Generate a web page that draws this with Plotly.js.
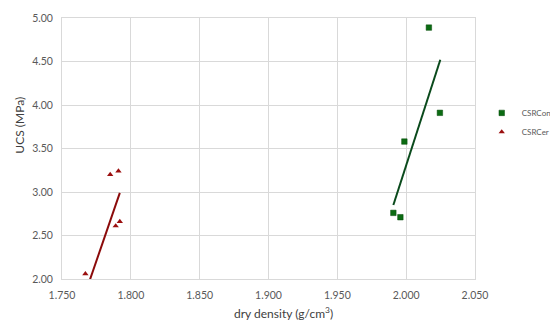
<!DOCTYPE html>
<html>
<head>
<meta charset="utf-8">
<script src="https://cdn.plot.ly/plotly-3.0.1.min.js"></script>
<style>
  html, body { margin: 0; padding: 0; background: #fff; }
  #chart { width: 550px; height: 328px; }
</style>
</head>
<body>
<div id="chart"></div>
<script>
// values
const conDensity = [2.0165, 2.0245, 1.9987, 1.9907, 1.9958];
const conUcs = [4.89, 3.91, 3.58, 2.76, 2.71];
const cerDensity = [1.767, 1.785, 1.791, 1.789, 1.792];
const cerUcs = [2.06, 3.20, 3.24, 2.61, 2.66];

// trend line ends (as drawn)
const conTrendX = [1.9907, 2.0248];
const conTrendY = [2.85, 4.52];
const cerTrendX = [1.767, 1.792];
const cerTrendY = [1.84, 2.99];

const xTicks = [1.75, 1.8, 1.85, 1.9, 1.95, 2.0, 2.05];
const xTickText = ['1.750', '1.800', '1.850', '1.900', '1.950', '2.000', '2.050'];
const yTicks = [2, 2.5, 3, 3.5, 4, 4.5, 5];
const yTickText = ['2.00', '2.50', '3.00', '3.50', '4.00', '4.50', '5.00'];

const green = '#0b6b12';
const red = '#9b0f0f';
const fontFam = 'Lato, "Open Sans", sans-serif';

const traces = [
  {
    x: conDensity, y: conUcs, type: 'scatter', mode: 'markers', name: 'CSRCon',
    marker: { symbol: 'square', size: 5.5, color: green, line: { width: 0.5, color: '#064a0a' } }
  },
  {
    x: cerDensity, y: cerUcs, type: 'scatter', mode: 'markers', name: 'CSRCer',
    marker: { symbol: 'triangle-up', size: 5.5, color: red }
  },
  {
    x: conTrendX, y: conTrendY, type: 'scatter', mode: 'lines', showlegend: false,
    line: { color: '#0a4a1c', width: 2 }
  },
  {
    x: cerTrendX, y: cerTrendY, type: 'scatter', mode: 'lines', showlegend: false,
    line: { color: '#8b0a0a', width: 2 }
  }
];

const axisCommon = {
  showgrid: true, gridcolor: '#d9d9d9', gridwidth: 1,
  showline: true, mirror: true, linecolor: '#d9d9d9', linewidth: 1,
  zeroline: false, ticks: '', tickmode: 'array',
  tickfont: { family: fontFam, size: 10.5, color: '#595959' }
};

const layout = {
  width: 550, height: 328,
  margin: { l: 61.5, r: 74.7, t: 18, b: 49, autoexpand: false },
  paper_bgcolor: '#fff', plot_bgcolor: '#fff',
  font: { family: fontFam, color: '#595959' },
  xaxis: Object.assign({}, axisCommon, {
    range: [1.75, 2.05], tickvals: xTicks, ticktext: xTickText, ticklabelstandoff: 6
  }),
  yaxis: Object.assign({}, axisCommon, {
    range: [2, 5], tickvals: yTicks, ticktext: yTickText, ticklabelstandoff: 6
  }),
  showlegend: true,
  legend: {
    x: 1.0163, xanchor: 'left', y: 0.6, yanchor: 'middle',
    font: { family: fontFam, size: 8, color: '#595959' },
    bgcolor: 'rgba(0,0,0,0)', itemwidth: 30, tracegroupgap: 0
  },
  annotations: [
    {
      text: 'dry density (g/cm<sup>3</sup>)', xref: 'paper', yref: 'paper',
      x: (283 - 61.5) / 413.8, y: -0.129, xanchor: 'center', yanchor: 'middle',
      showarrow: false, font: { family: fontFam, size: 12, color: '#404040' }
    },
    {
      text: 'UCS (MPa)', xref: 'paper', yref: 'paper', textangle: -90,
      x: -0.105, y: 1 - (125 - 18) / 261, xanchor: 'center', yanchor: 'middle',
      showarrow: false, font: { family: fontFam, size: 12, color: '#404040' }
    }
  ]
};

Plotly.newPlot('chart', traces, layout, { displayModeBar: false, staticPlot: true });
</script>
</body>
</html>
